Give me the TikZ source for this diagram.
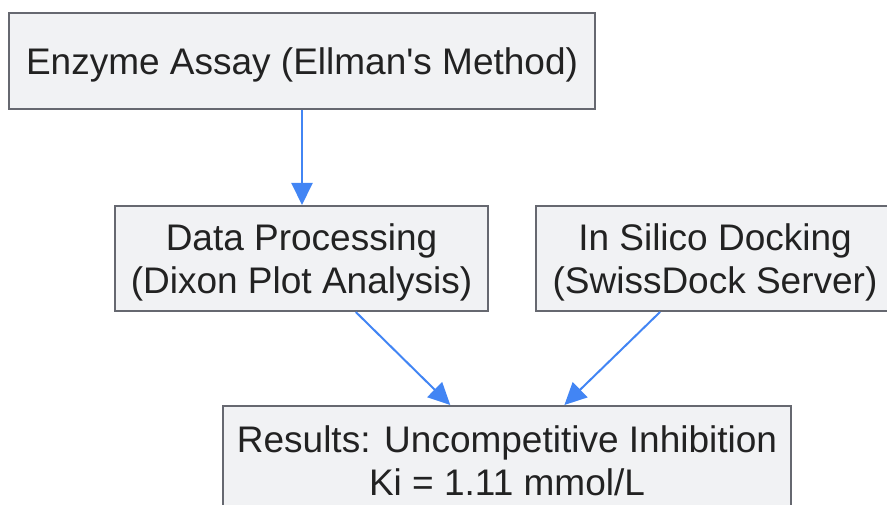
\documentclass[tikz,border=0pt]{standalone}
\usepackage{fontspec}
\setmainfont{Liberation Sans}[Ligatures=TeXOff]
\usetikzlibrary{arrows.meta}
\definecolor{boxfill}{HTML}{F1F2F4}
\definecolor{boxline}{HTML}{666870}
\definecolor{arrowblue}{HTML}{4285F4}
\definecolor{txt}{HTML}{222222}
\begin{document}
\begin{tikzpicture}[x=1pt,y=-1pt,
  box/.style={draw=boxline,fill=boxfill,line width=2pt,inner sep=0pt,align=center,
    text=txt,text depth=0pt,font=\fontsize{37}{43}\selectfont},
  flow/.style={draw=arrowblue,line width=2pt,-{Triangle[length=22pt,width=21pt]}}]
\useasboundingbox (0,0) rectangle (887,505);
\node[box,minimum width=586pt,minimum height=96pt] (assay) at (302,61) {Enzyme Assay (Ellman's Method)};
\node[box,minimum width=373pt,minimum height=105pt] (dp) at (301.5,258.5) {Data Processing\\(Dixon Plot Analysis)};
\node[box,minimum width=358pt,minimum height=105pt] (dock) at (715,258.5) {In Silico Docking\\(SwissDock Server)};
\node[box,minimum width=568pt,minimum height=110pt] (res) at (507,461) {Results: Uncompetitive Inhibition\\Ki = 1.11 mmol/L};
\draw[flow] (assay.south -| 302,0) -- (dp.north -| 302,0);
\draw[flow] (dp) -- (res);
\draw[flow] (dock) -- (res);
\end{tikzpicture}
\end{document}
